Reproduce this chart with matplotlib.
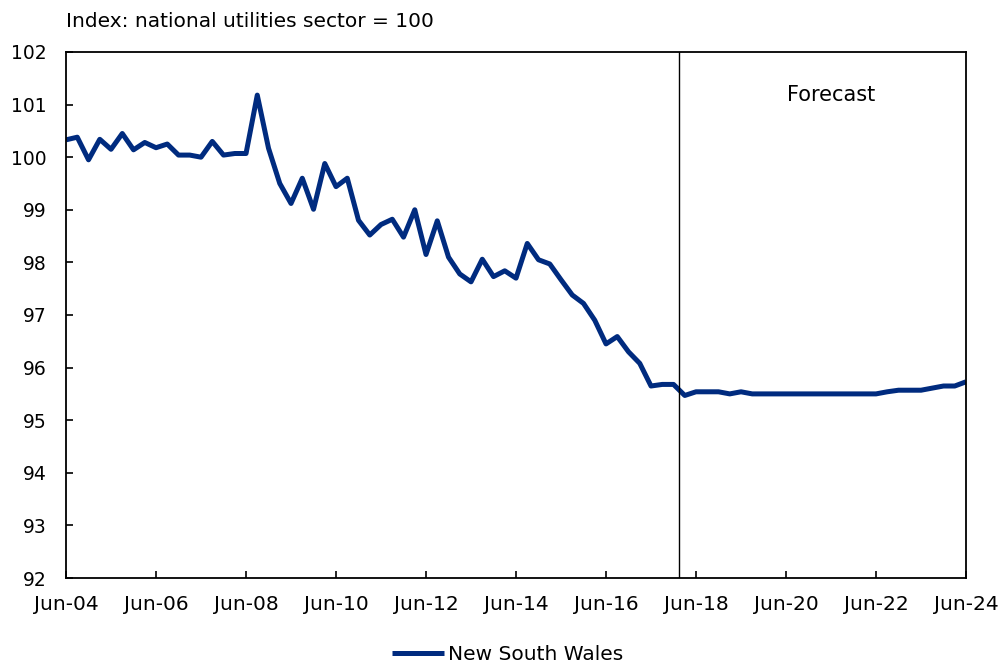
import matplotlib
matplotlib.use("Agg")
import matplotlib.pyplot as plt
import numpy as np
import pandas as pd

# quarterly index, Jun-04 to Jun-24
quarters = pd.period_range("2004Q2", "2024Q2", freq="Q")
nsw = [
    100.33, 100.38, 99.95, 100.34, 100.15, 100.45, 100.14, 100.28,
    100.18, 100.25, 100.04, 100.04, 100.00, 100.30, 100.04, 100.07,
    100.07, 101.18, 100.17, 99.50, 99.12, 99.60, 99.01, 99.88,
    99.44, 99.60, 98.80, 98.52, 98.72, 98.82, 98.48, 99.00,
    98.15, 98.79, 98.10, 97.78, 97.63, 98.06, 97.73, 97.84,
    97.70, 98.36, 98.05, 97.97, 97.67, 97.38, 97.22, 96.90,
    96.45, 96.59, 96.30, 96.08, 95.65, 95.68, 95.68, 95.47,
    95.54, 95.54, 95.54, 95.50, 95.54, 95.50, 95.50, 95.50,
    95.50, 95.50, 95.50, 95.50, 95.50, 95.50, 95.50, 95.50,
    95.50, 95.54, 95.57, 95.57, 95.57, 95.61, 95.65, 95.65,
    95.73,
]
forecast_start = 54.5  # between Dec-17 and Mar-18
tick_every = 8
y_ticks = list(range(92, 103))

line_color = "#002b7f"
font_size = 14.5

plt.rcParams["font.family"] = ["DejaVu Sans"]

fig = plt.figure(figsize=(10.05, 6.63), dpi=100)
ax = fig.add_axes([0.0657, 0.1282, 0.8955, 0.7934])

x = np.arange(len(quarters))
ax.plot(x, nsw, color=line_color, lw=3.6, label="New South Wales",
        solid_capstyle="butt")
ax.axvline(forecast_start, color="black", lw=1.0)
ax.text(0.85, 0.918, "Forecast", transform=ax.transAxes, ha="center",
        va="center", fontsize=15)

ax.set_xlim(0, len(quarters) - 1)
ax.set_ylim(92, 102)
ax.set_yticks(y_ticks)
xt = x[::tick_every]
ax.set_xticks(xt)
ax.set_xticklabels([quarters[i].strftime("%b-%y") for i in xt])

ax.tick_params(axis="both", direction="in", length=5, width=1.2)
ax.tick_params(axis="x", pad=12, labelsize=font_size)
ax.tick_params(axis="y", pad=14, labelsize=13.5)
for s in ax.spines.values():
    s.set_linewidth(1.3)

fig.text(0.0657, 0.967, "Index: national utilities sector = 100",
         fontsize=font_size, va="center", ha="left")

fig.legend(loc="center", bbox_to_anchor=(0.505, 0.013), frameon=False,
           fontsize=font_size, handlelength=2.6, handletextpad=0.2)

fig.savefig("out.png", dpi=100)
